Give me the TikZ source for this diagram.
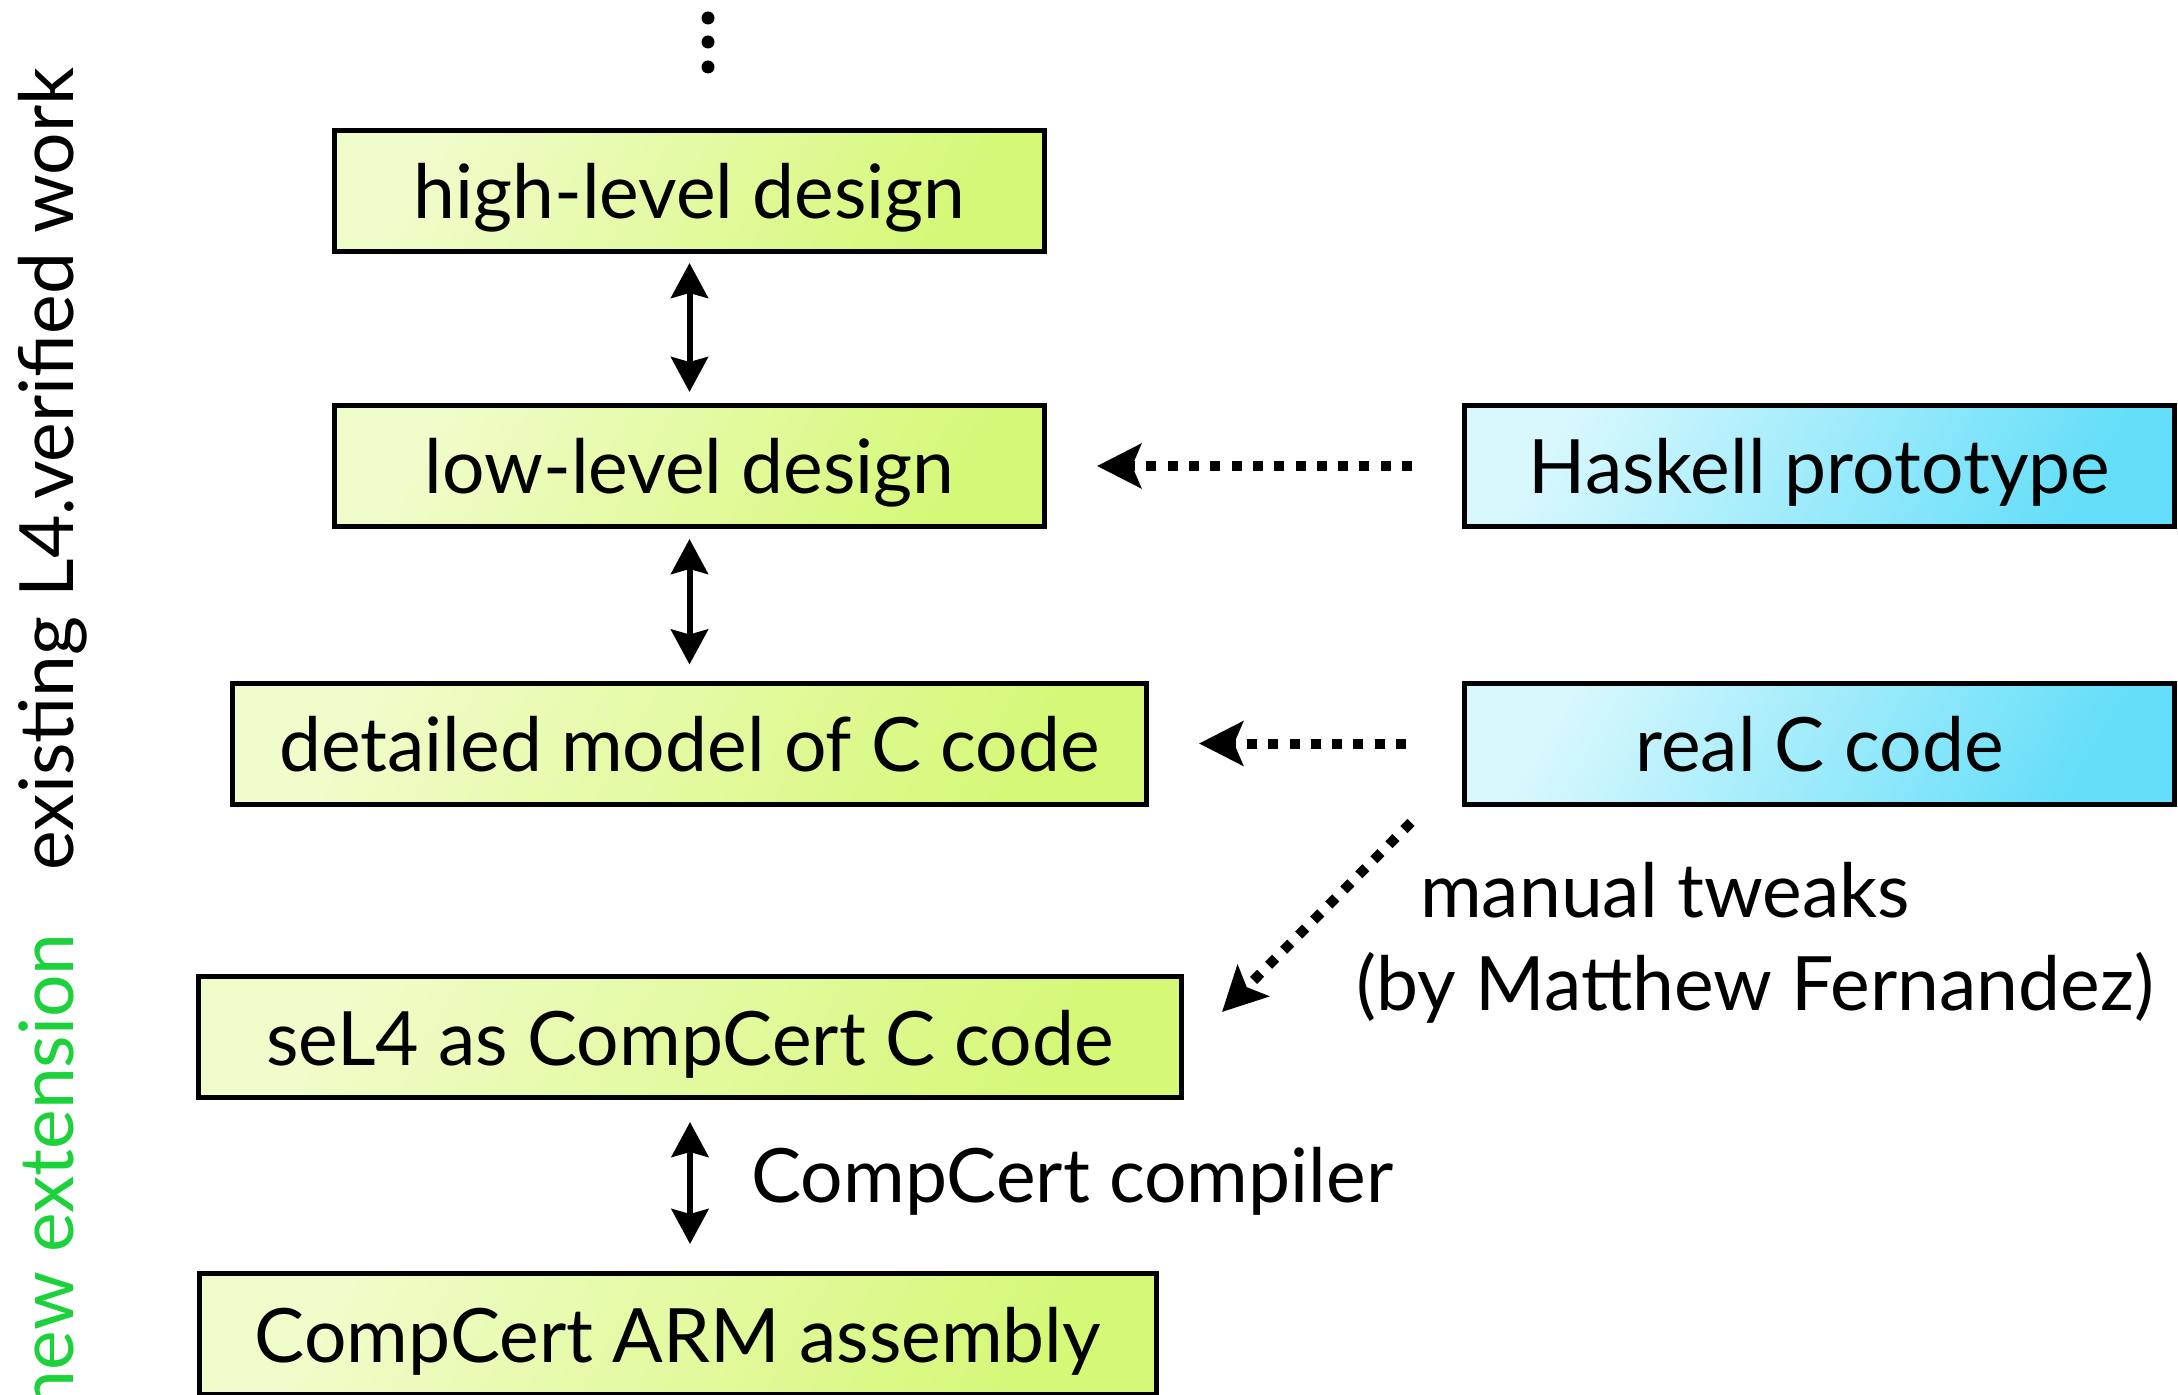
\documentclass[tikz,border=0pt]{standalone}
\usepackage{fontspec}
\setmainfont{Lato}
\usetikzlibrary{arrows.meta,calc}
\definecolor{gL}{HTML}{F1FCCB}
\definecolor{gR}{HTML}{D5F877}
\definecolor{cL}{HTML}{D9F8FD}
\definecolor{cR}{HTML}{64DEF9}
\definecolor{newgreen}{HTML}{1CD23A}
\begin{document}
\begin{tikzpicture}[x=0.5pt,y=-0.5pt,
  txt/.style={font=\fontsize{37.5}{44}\selectfont},
  box/.style={txt, draw=black, line width=2.5pt, inner sep=0pt, minimum height=60.5pt,
    text height=33pt, text depth=5pt},
  gbox/.style={box, left color=gL, right color=gR, shading angle=60},
  cbox/.style={box, left color=cL, right color=cR, shading angle=60},
  biarrow/.style={line width=3pt, {Stealth[length=17.5pt,width=18.5pt,inset=2.5pt]}-{Stealth[length=17.5pt,width=18.5pt,inset=2.5pt]}},
  dotarrow/.style={line width=5pt, dash pattern=on 5pt off 5.65pt, -{Stealth[length=22pt,width=22pt,inset=4.5pt]}},
  sidelabel/.style={font=\fontsize{37.5}{44}\selectfont, rotate=90, anchor=base east, inner sep=0pt}
]
\useasboundingbox (0,0) rectangle (2178,1395);

% vertical dots
\foreach \yy in {18,42,67} \fill (708,\yy) circle (3.25pt);

% boxes
\node[gbox, minimum width=355pt] (high) at (689.5,191) {high-level design};
\node[gbox, minimum width=355pt] (low) at (689.5,466) {low-level design};
\node[gbox, minimum width=457pt] (det) at (689.5,743.5) {detailed model of C code};
\node[gbox, minimum width=491.5pt] (sel) at (690,1037) {seL4 as CompCert C code};
\node[gbox, minimum width=478.5pt] (arm) at (678,1334) {CompCert ARM assembly};
\node[cbox, minimum width=355pt] (hask) at (1819.5,466) {Haskell prototype};
\node[cbox, minimum width=355pt] (realc) at (1819.5,743.5) {real C code};

% refinement arrows
\draw[biarrow, shorten <=4.5pt, shorten >=5.5pt] (high.south) -- (low.north);
\draw[biarrow, shorten <=5pt, shorten >=8pt] (low.south) -- (det.north);
\draw[biarrow, shorten <=11pt, shorten >=13.5pt] (sel.south) -- (sel.south |- arm.north);

% dotted arrows
\draw[dotarrow, shorten <=25pt, shorten >=25pt] (hask.west) -- (low.east);
\draw[dotarrow, shorten <=28pt, shorten >=25pt] (realc.west) -- (det.east);
\coordinate (tws) at ([shift={(-51,16)}]realc.south west);
\coordinate (twe) at ([shift={(38,38)}]sel.north east);
\draw[dotarrow] (tws) -- (twe);

% labels
\node[txt, anchor=base, inner sep=0pt] (mt1) at (1665,917) {manual tweaks};
\node[txt, anchor=base, inner sep=0pt] (mt2) at (1755.5,1010) {(by Matthew Fernandez)};
\node[txt, anchor=base west, inner sep=0pt] (ccc) at (751,1202) {CompCert compiler};

% side labels
\node[sidelabel] (exist) at (73,67) {existing L4.verified work};
\node[sidelabel, text=newgreen] (newext) at (73,933) {new extension};
\end{tikzpicture}
\end{document}
